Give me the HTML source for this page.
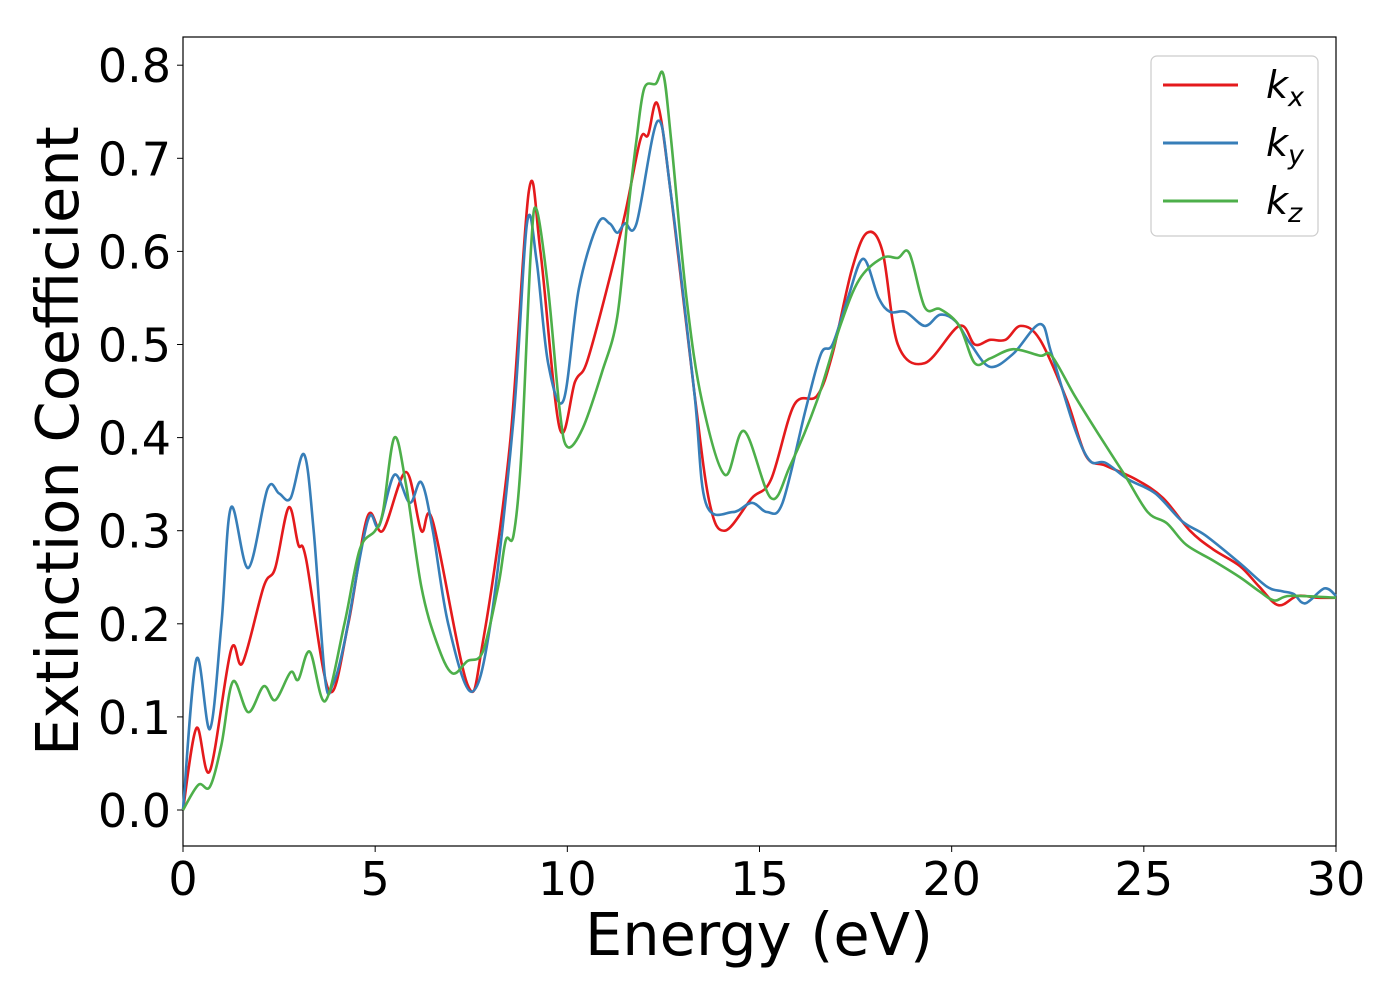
<!DOCTYPE html>
<html><head><meta charset="utf-8"><style>
body{margin:0;background:#fff;}
svg{display:block;font-family:"DejaVu Sans","Liberation Sans",sans-serif;}
</style></head><body>
<svg id="chart" width="1400" height="1000">
<rect x="183" y="37" width="1153" height="809" fill="#fff" stroke="#000" stroke-width="1.2"/>
<g id="xticks"></g>
<g id="yticks"></g>
<g id="series"></g>
<text x="759" y="955" font-size="59" text-anchor="middle">Energy (eV)</text>
<text transform="translate(78,441) rotate(-90)" font-size="59" text-anchor="middle">Extinction Coefficient</text>
<g>
<rect x="1151" y="56" width="167" height="180" rx="6" fill="#fff" stroke="#ccc" stroke-width="1.2"/>
<line x1="1163" y1="85" x2="1238" y2="85" stroke="#e41a1c" stroke-width="3"/>
<text x="1266" y="98" font-size="38" font-style="italic">k<tspan font-size="27" dy="8">x</tspan></text>
<line x1="1163" y1="143" x2="1238" y2="143" stroke="#377eb8" stroke-width="3"/>
<text x="1266" y="156" font-size="38" font-style="italic">k<tspan font-size="27" dy="8">y</tspan></text>
<line x1="1163" y1="201" x2="1238" y2="201" stroke="#4daf4a" stroke-width="3"/>
<text x="1266" y="214" font-size="38" font-style="italic">k<tspan font-size="27" dy="8">z</tspan></text>
</g>
</svg>
<script>
const xTicks=[0,5,10,15,20,25,30];
const yTicks=[0,0.1,0.2,0.3,0.4,0.5,0.6,0.7,0.8];
const kxE=[0,0.35,0.7,1.25,1.55,2.1,2.4,2.75,3.0,3.2,3.8,4.3,4.8,5.2,5.8,6.2,6.5,7.4,7.8,8.5,9.0,9.3,9.8,10.2,10.5,11.0,11.5,11.9,12.1,12.35,12.7,13.3,13.7,14.1,14.8,15.3,15.9,16.5,16.9,17.4,17.8,18.2,18.6,19.3,20.2,20.6,21,21.4,21.8,22.3,23,23.5,24.0,24.8,25.5,26.2,26.8,27.5,28.0,28.5,29.0,29.5,30];
const kxV=[0,0.088,0.042,0.172,0.158,0.24,0.26,0.325,0.285,0.27,0.128,0.2,0.315,0.30,0.363,0.30,0.31,0.135,0.18,0.39,0.665,0.60,0.41,0.46,0.48,0.555,0.64,0.72,0.725,0.758,0.66,0.45,0.33,0.30,0.335,0.355,0.435,0.445,0.49,0.58,0.62,0.60,0.50,0.48,0.52,0.50,0.505,0.505,0.52,0.505,0.44,0.38,0.37,0.355,0.335,0.30,0.28,0.262,0.24,0.22,0.23,0.228,0.228];
const kyE=[0,0.35,0.7,1.0,1.25,1.7,2.2,2.5,2.8,3.15,3.4,3.7,3.9,4.2,4.8,5.1,5.5,5.9,6.2,6.5,6.9,7.5,8.0,8.6,8.95,9.2,9.5,9.9,10.3,10.8,11.1,11.3,11.5,11.8,12.35,12.7,13.3,13.6,14.3,14.8,15.2,15.6,16.2,16.6,16.9,17.3,17.7,18.1,18.4,18.8,19.3,19.7,20.1,20.5,21.0,21.6,22.3,22.6,23.2,23.6,24.0,24.6,25.3,26.0,26.6,27.5,28.2,28.6,28.9,29.2,29.7,30];
const kyV=[0,0.162,0.087,0.2,0.325,0.26,0.345,0.34,0.335,0.382,0.30,0.14,0.135,0.18,0.31,0.305,0.36,0.33,0.352,0.30,0.20,0.127,0.20,0.42,0.63,0.59,0.48,0.44,0.56,0.63,0.63,0.62,0.63,0.63,0.74,0.66,0.45,0.33,0.32,0.33,0.32,0.33,0.43,0.49,0.50,0.55,0.592,0.55,0.535,0.535,0.52,0.532,0.525,0.50,0.476,0.49,0.522,0.49,0.41,0.375,0.373,0.355,0.34,0.31,0.295,0.265,0.24,0.235,0.232,0.222,0.238,0.23];
const kzE=[0,0.4,0.7,1.0,1.3,1.7,2.1,2.4,2.8,3.0,3.3,3.7,4.2,4.6,5.0,5.2,5.5,5.8,6.2,6.6,7.0,7.4,7.8,8.2,8.4,8.6,8.8,9.05,9.2,9.5,9.8,10.0,10.4,10.9,11.3,11.6,11.8,12.0,12.3,12.5,12.7,13.1,13.5,14.1,14.6,15.3,15.8,16.5,17.1,17.6,18.2,18.6,18.9,19.3,19.7,20.2,20.6,21.0,21.6,22.3,22.6,23.2,23.8,24.5,25.1,25.6,26.1,26.8,27.5,28.0,28.4,28.8,30];
const kzV=[0,0.027,0.025,0.07,0.138,0.105,0.133,0.118,0.148,0.14,0.17,0.117,0.2,0.28,0.3,0.32,0.4,0.35,0.24,0.18,0.147,0.16,0.17,0.24,0.29,0.295,0.38,0.60,0.645,0.56,0.43,0.39,0.41,0.47,0.53,0.65,0.72,0.775,0.78,0.79,0.72,0.55,0.44,0.36,0.407,0.335,0.37,0.44,0.52,0.57,0.593,0.593,0.598,0.54,0.538,0.52,0.48,0.485,0.495,0.488,0.488,0.445,0.405,0.36,0.32,0.308,0.285,0.268,0.25,0.235,0.225,0.23,0.228];

const X0=183,X1=1336,Y0px=810,PER=931;
function xs(e){return X0+(e-0)/(30-0)*(X1-X0);}
function ys(v){return Y0px-v*PER;}
const NS='http://www.w3.org/2000/svg';
const gx=document.getElementById('xticks'),gy=document.getElementById('yticks'),gs=document.getElementById('series');
xTicks.forEach(t=>{
  const l=document.createElementNS(NS,'line');
  l.setAttribute('x1',xs(t));l.setAttribute('x2',xs(t));l.setAttribute('y1',846);l.setAttribute('y2',852);l.setAttribute('stroke','#000');
  
  
  gx.appendChild(l);
  const tx=document.createElementNS(NS,'text');
  tx.setAttribute('x',xs(t));tx.setAttribute('y',895);tx.setAttribute('font-size','46');tx.setAttribute('text-anchor','middle');
  tx.textContent=t;
  
  
  gx.appendChild(tx);
});
yTicks.forEach(t=>{
  const l=document.createElementNS(NS,'line');
  l.setAttribute('x1',177);l.setAttribute('x2',183);l.setAttribute('y1',ys(t));l.setAttribute('y2',ys(t));l.setAttribute('stroke','#000');
  
  
  gy.appendChild(l);
  const tx=document.createElementNS(NS,'text');
  tx.setAttribute('x',171);tx.setAttribute('y',ys(t)+17);tx.setAttribute('font-size','46');tx.setAttribute('text-anchor','end');
  tx.textContent=t.toFixed(1);
  
  
  gy.appendChild(tx);
});
function pathFor(E,V){
  const p=E.map((e,i)=>[xs(e),ys(V[i])]);
  let d='M'+p[0][0]+','+p[0][1];
  for(let i=0;i<p.length-1;i++){
    const a=p[Math.max(i-1,0)],b=p[i],c=p[i+1],n=p[Math.min(i+2,p.length-1)];
    const c1=[b[0]+(c[0]-a[0])/6,b[1]+(c[1]-a[1])/6],c2=[c[0]-(n[0]-b[0])/6,c[1]-(n[1]-b[1])/6];
    d+=' C'+c1+' '+c2+' '+c;
  }
  return d;
}
[[kxE,kxV,'#e41a1c','kx'],[kyE,kyV,'#377eb8','ky'],[kzE,kzV,'#4daf4a','kz']].forEach(s=>{
  const p=document.createElementNS(NS,'path');
  p.setAttribute('d',pathFor(s[0],s[1]));p.setAttribute('fill','none');p.setAttribute('stroke',s[2]);p.setAttribute('stroke-width','2.6');
  
  
  gs.appendChild(p);
});
</script>
</body></html>
